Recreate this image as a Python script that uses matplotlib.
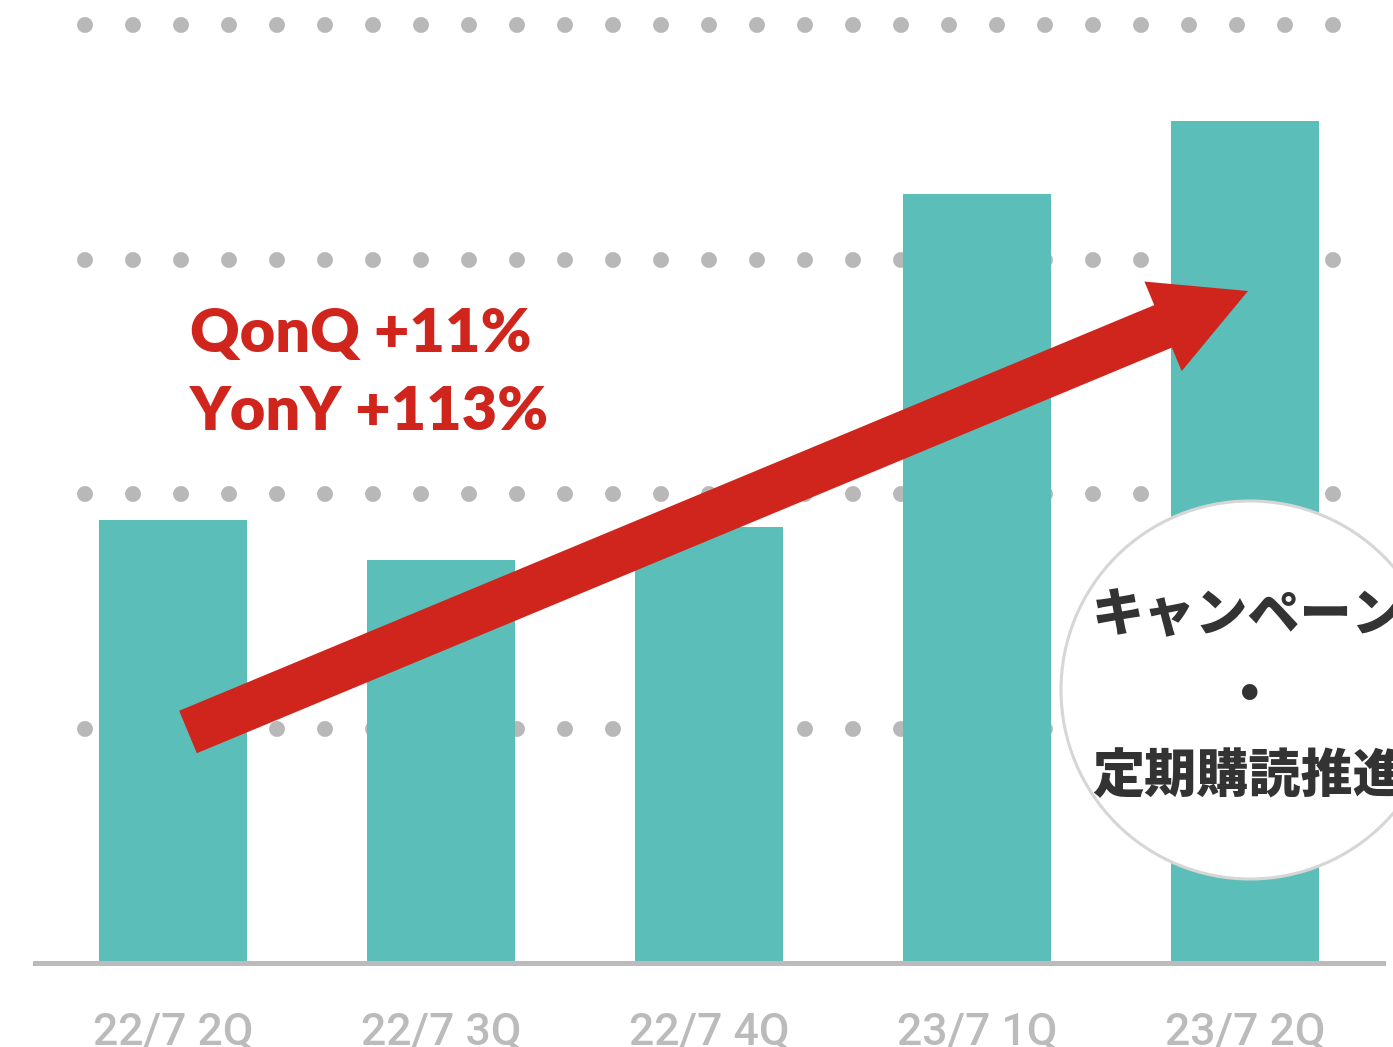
import matplotlib
matplotlib.use("Agg")
import matplotlib.pyplot as plt
import matplotlib.patches as mpatches
from matplotlib.transforms import Affine2D
from matplotlib import font_manager as fm

# ---- data ----
categories = ["22/7 2Q", "22/7 3Q", "22/7 4Q", "23/7 1Q", "23/7 2Q"]
values = [189, 172, 186, 328, 359]
grid_values = [100, 200, 300, 400]
growth_lines = ["QonQ +11%", "YonY +113%"]
circle_lines = ["キャンペーン", "・", "定期購読推進"]

W, H = 1393, 1047
plt.rcParams['lines.scale_dashes'] = False
names = {f.name for f in fm.fontManager.ttflist}
red_family = 'Lato' if 'Lato' in names else 'DejaVu Sans'
tick_family = 'Roboto' if 'Roboto' in names else 'DejaVu Sans'

fig = plt.figure(figsize=(W / 100, H / 100), dpi=100)
fig.patch.set_facecolor('white')
ax = fig.add_axes([35 / W, (H - 963) / H, (1383 - 35) / W, (963 - 25) / H])
ax.set_xlim(-0.515, 4.515)
ax.set_ylim(0, 400)
for s in ax.spines.values():
    s.set_visible(False)
ax.set_yticks([])

# dotted gridlines
for gv in grid_values:
    ax.axhline(gv, xmin=(85 - 35) / 1348, xmax=(1336 - 35) / 1348, color='#b8b8b8',
               lw=11.5, linestyle=(0, (0.01, 34.55)), dash_capstyle='round',
               clip_on=False, zorder=1)

ax.bar(range(len(categories)), values, width=0.55, color='#5bbeb8', zorder=2)
ax.axhline(0, color='#bbbbbb', lw=3.6, zorder=3, clip_on=False)

ax.set_xticks(range(len(categories)))
ax.set_xticklabels(categories, family=tick_family, weight='medium',
                   fontsize=32, color='#bbbbbb', va='top')
ax.tick_params(axis='x', length=0, pad=35)

# pixel transform (top-left origin)
pix = Affine2D().scale(1 / W, -1 / H).translate(0, 1) + fig.transFigure

arrow = mpatches.FancyArrow(188, 732, 1248 - 188, 291 - 732, width=46, head_width=97,
                            head_length=92, length_includes_head=True,
                            transform=pix, color='#d0251d', lw=0, zorder=4)
fig.add_artist(arrow)

fig.text(190, 352, growth_lines[0], transform=pix, family=red_family, weight='heavy',
         fontsize=44, color='#d0251d', va='baseline', ha='left', zorder=5)
fig.text(190, 430, growth_lines[1], transform=pix, family=red_family, weight='heavy',
         fontsize=44, color='#d0251d', va='baseline', ha='left', zorder=5)

circ = mpatches.Circle((1250, 690), 189, transform=pix, facecolor='white',
                       edgecolor='#d6d6d6', lw=2.2, zorder=6)
fig.add_artist(circ)

cjk = ['Noto Sans CJK JP', 'DejaVu Sans']
fig.text(1092, 616, circle_lines[0], transform=pix, family=cjk, weight='black',
         fontsize=37.5, color='#333333', va='center', ha='left', zorder=7)
fig.text(1250, 697, circle_lines[1], transform=pix, family=cjk, weight='black',
         fontsize=40, color='#333333', va='center', ha='center', zorder=7)
fig.text(1092, 777, circle_lines[2], transform=pix, family=cjk, weight='black',
         fontsize=37.5, color='#333333', va='center', ha='left', zorder=7)

fig.savefig('out.png', dpi=100, facecolor='white')
